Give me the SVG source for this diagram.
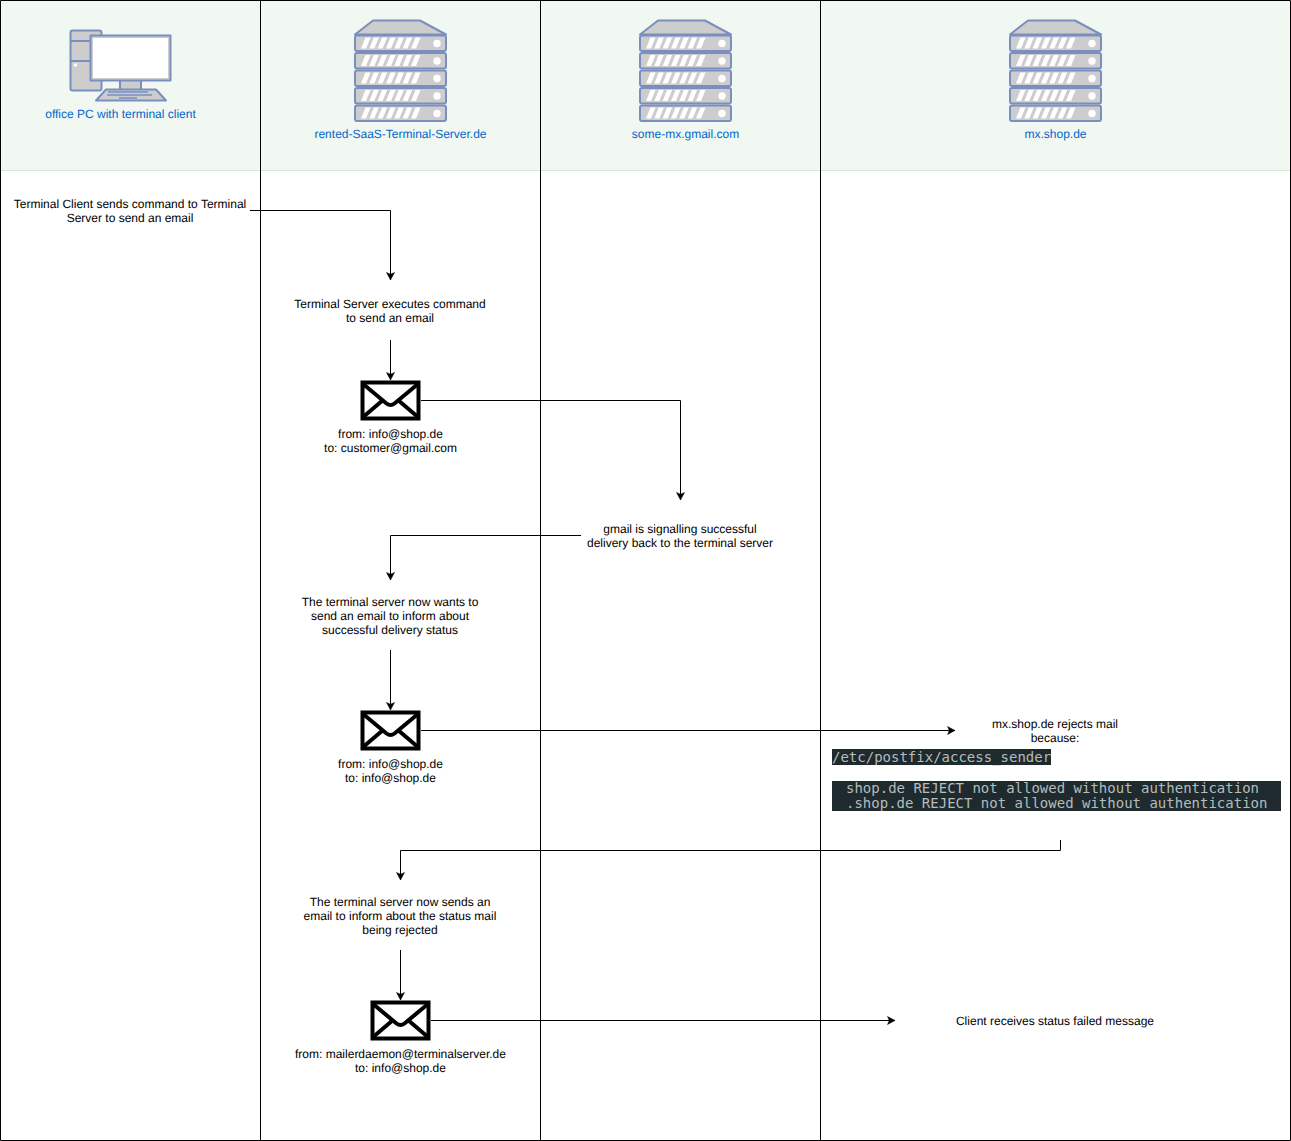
<svg xmlns="http://www.w3.org/2000/svg" width="1291" height="1141" viewBox="0 0 1291 1141">
<style>
text{font-family:"Liberation Sans",Arial,sans-serif;font-size:12px;text-anchor:middle;fill:#000;text-rendering:geometricPrecision}
text.hl{fill:#0066cc}
.lane{fill:none;stroke:#000;stroke-width:1}
.hd{fill:#f1f8f1;stroke:#d5e8d4;stroke-width:1}
.cn{fill:none;stroke:#000;stroke-width:1}
.ic{fill:#cdcdcd;stroke:#7a8fc0;stroke-width:2;stroke-linejoin:round}
.wh{fill:#fff;stroke:none}
.env{fill:#fff;stroke:#000;stroke-width:4}
.envl{fill:none;stroke:#000;stroke-width:4}
text.mono{font-family:"DejaVu Sans Mono",monospace;font-size:14px;text-anchor:start;fill:#b4bcbc;text-rendering:auto}
</style>
<defs>
<marker id="arr" markerUnits="userSpaceOnUse" markerWidth="10" markerHeight="10" refX="8" refY="4.5" orient="auto"><path d="M0.5 0.5L8 4.5L0.5 8.5L2.3 4.5Z" fill="#000" stroke="#000" stroke-width="0.5"/></marker>
<g id="server">
<path class="ic" d="M0 14L18 0H65L91 14Z"/>
<g id="row"><rect class="ic" x="0" y="15" width="91" height="15.500" rx="2"/>
<path class="wh" d="M6 28L10.500 17H15.500L11 28ZM14.300 28L18.800 17H23.800L19.300 28ZM22.600 28L27.100 17H32.100L27.600 28ZM31 28L35.500 17H40.500L36 28ZM39.300 28L43.800 17H48.800L44.300 28ZM47.600 28L52.100 17H57.100L52.600 28ZM56 28L60.500 17H65.500L61 28Z"/><circle class="wh" cx="82" cy="23" r="3.700"/></g>
<use href="#row" y="17.500"/><use href="#row" y="35"/><use href="#row" y="52.500"/><use href="#row" y="70"/>
</g>
<g id="envelope"><rect class="env" x="2" y="2" width="56" height="36"/><path class="envl" d="M2 3L26 23Q30 26 34 23L58 3M2 37L22 20M58 37L38 20"/></g>
</defs>
<rect width="1291" height="1141" fill="#fff"/>
<g id="lanes">
<rect class="hd" x="0.500" y="0.500" width="1290" height="170"/>
<path class="lane" d="M0.500 0.500V1140.500H1290.500V0.500ZM260.500 0.500V1140.500M540.500 0.500V1140.500M820.500 0.500V1140.500"/>
</g>
<g id="n-pc">
<rect class="ic" x="70.500" y="30.500" width="31" height="60" rx="2"/>
<path class="ic" fill="none" d="M70.500 41H90M70.500 61H90"/>
<circle class="wh" cx="75.500" cy="65" r="1.800"/>
<rect class="ic" x="120" y="80" width="21" height="10"/>
<rect class="ic" x="90.500" y="35.500" width="80" height="45"/>
<rect class="wh" x="93" y="38" width="75" height="40"/>
<path class="ic" d="M96 100.500L106 89.500H156L166 100.500Z"/>
<path d="M108 92H148M107 95H152M119 98H137" stroke="#7a8fc0" stroke-width="1.500"/>
<text class="hl" x="120.500" y="118">office PC with terminal client</text>
</g>
<g id="n-terminal"><use href="#server" x="355" y="20.500"/><text class="hl" x="400.500" y="138">rented-SaaS-Terminal-Server.de</text></g>
<g id="n-gmail"><use href="#server" x="640" y="20.500"/><text class="hl" x="685.500" y="138">some-mx.gmail.com</text></g>
<g id="n-shop"><use href="#server" x="1010" y="20.500"/><text class="hl" x="1055.500" y="138">mx.shop.de</text></g>
<g id="connectors">
<path class="cn" marker-end="url(#arr)" d="M250 210.500H390.500V280"/>
<path class="cn" marker-end="url(#arr)" d="M390.500 340V380"/>
<path class="cn" marker-end="url(#arr)" d="M421 400.500H680.500V500"/>
<path class="cn" marker-end="url(#arr)" d="M581 535.500H390.500V580"/>
<path class="cn" marker-end="url(#arr)" d="M390.500 650V710"/>
<path class="cn" marker-end="url(#arr)" d="M421 730.500H955"/>
<path class="cn" marker-end="url(#arr)" d="M1060.500 840V850.500H400.500V880"/>
<path class="cn" marker-end="url(#arr)" d="M400.500 950V1000"/>
<path class="cn" marker-end="url(#arr)" d="M431 1020.500H895"/>
</g>
<g id="n-step1"><text x="130" y="208">Terminal Client sends command to Terminal</text><text x="130" y="222">Server to send an email</text></g>
<g id="n-step2"><text x="390" y="308">Terminal Server executes command</text><text x="390" y="322">to send an email</text></g>
<g id="n-mail1"><use href="#envelope" x="360.500" y="380.500"/><text x="390.500" y="438">from: info@shop.de</text><text x="390.500" y="452">to: customer@gmail.com</text></g>
<g id="n-step3"><text x="680" y="533">gmail is signalling successful</text><text x="680" y="547">delivery back to the terminal server</text></g>
<g id="n-step4"><text x="390" y="606">The terminal server now wants to</text><text x="390" y="620">send an email to inform about</text><text x="390" y="634">successful delivery status</text></g>
<g id="n-mail2"><use href="#envelope" x="360.500" y="710.500"/><text x="390.500" y="768">from: info@shop.de</text><text x="390.500" y="782">to: info@shop.de</text></g>
<g id="n-reject"><text x="1055" y="728">mx.shop.de rejects mail</text><text x="1055" y="742">because:</text>
<rect x="832" y="749" width="219" height="16" fill="#1f2a2e"/>
<rect x="832" y="781" width="449" height="30" fill="#1f2a2e"/>
<text class="mono" x="832" y="762">/etc/postfix/access_sender</text>
<text class="mono" x="846" y="793">shop.de REJECT not allowed without authentication</text>
<text class="mono" x="846" y="808">.shop.de REJECT not allowed without authentication</text></g>
<g id="n-step5"><text x="400" y="906">The terminal server now sends an</text><text x="400" y="920">email to inform about the status mail</text><text x="400" y="934">being rejected</text></g>
<g id="n-mail3"><use href="#envelope" x="370.500" y="1000.500"/><text x="400.500" y="1058">from: mailerdaemon@terminalserver.de</text><text x="400.500" y="1072">to: info@shop.de</text></g>
<g id="n-step6"><text x="1055" y="1025">Client receives status failed message</text></g>
</svg>
